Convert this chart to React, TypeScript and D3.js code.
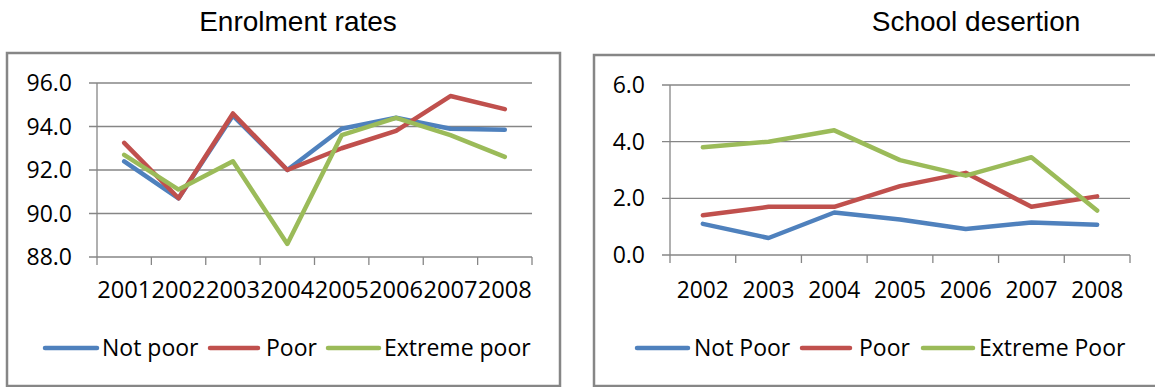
import React from "react";
import * as d3 from "d3";

// ---- data ----
const enrolYears = ["2001", "2002", "2003", "2004", "2005", "2006", "2007", "2008"];
const enrolNotPoor = [92.4, 90.7, 94.5, 92.0, 93.9, 94.4, 93.9, 93.85];
const enrolPoor = [93.25, 90.7, 94.6, 92.0, 93.0, 93.8, 95.4, 94.8];
const enrolExtreme = [92.7, 91.1, 92.4, 88.6, 93.6, 94.4, 93.6, 92.6];
const enrolTicks = [88, 90, 92, 94, 96];
const enrolLabels = ["Not poor", "Poor", "Extreme poor"];

const desertYears = ["2002", "2003", "2004", "2005", "2006", "2007", "2008"];
const desertNotPoor = [1.1, 0.6, 1.5, 1.25, 0.92, 1.15, 1.07];
const desertPoor = [1.4, 1.7, 1.7, 2.43, 2.9, 1.7, 2.07];
const desertExtreme = [3.8, 4.0, 4.4, 3.35, 2.8, 3.45, 1.57];
const desertTicks = [0, 2, 4, 6];
const desertLabels = ["Not Poor", "Poor", "Extreme Poor"];

const seriesColors = ["#4F81BD", "#C0504D", "#9BBB59"];
const labelFont = "'Open Sans', 'Liberation Sans', sans-serif";
const titleFont = "'Liberation Sans', Arial, sans-serif";
const gray = "#868686";

type PanelProps = {
  title: string;
  titleX: number;
  frame: { x: number; y: number; w: number; h: number };
  plot: { left: number; right: number; top: number; bottom: number };
  years: string[];
  series: number[][];
  names: string[];
  domain: [number, number];
  ticks: number[];
  labelRight: number;
  yearWidth: number;
  legend: { x1: number; x2: number; tx: number }[];
};

function Panel(p: PanelProps) {
  const x = d3
    .scaleBand<string>()
    .domain(p.years)
    .range([p.plot.left, p.plot.right])
    .padding(0);
  const y = d3.scaleLinear().domain(p.domain).range([p.plot.bottom, p.plot.top]);
  const line = d3
    .line<number>()
    .x((_, i) => (x(p.years[i]) as number) + x.bandwidth() / 2)
    .y((v) => y(v));
  const boundaries = p.years.map((yr) => x(yr) as number).concat([p.plot.right]);
  const legendY = 348;

  return (
    <g>
      <text
        x={p.titleX}
        y={31}
        textAnchor="middle"
        fontFamily={titleFont}
        fontSize={28}
        fill="#000"
      >
        {p.title}
      </text>
      <rect
        x={p.frame.x}
        y={p.frame.y}
        width={p.frame.w}
        height={p.frame.h}
        fill="#fff"
        stroke={gray}
        strokeWidth={2.5}
      />
      {/* horizontal gridlines and y tick labels */}
      {p.ticks.map((t) => (
        <g key={t}>
          <line
            x1={p.plot.left - 8}
            x2={p.plot.right}
            y1={y(t)}
            y2={y(t)}
            stroke={gray}
            strokeWidth={1.3}
          />
          <text
            x={p.labelRight}
            y={y(t) + 8}
            textAnchor="end"
            fontFamily={labelFont}
            fontSize={23}
            fill="#000"
          >
            {t.toFixed(1)}
          </text>
        </g>
      ))}
      {/* value axis */}
      <line
        x1={p.plot.left}
        x2={p.plot.left}
        y1={p.plot.top}
        y2={p.plot.bottom}
        stroke={gray}
        strokeWidth={1.3}
      />
      {/* category tick marks */}
      {boundaries.map((bx, i) => (
        <line
          key={i}
          x1={bx}
          x2={bx}
          y1={p.plot.bottom}
          y2={p.plot.bottom + 8}
          stroke={gray}
          strokeWidth={1.3}
        />
      ))}
      {p.years.map((yr) => (
        <text
          key={yr}
          x={(x(yr) as number) + x.bandwidth() / 2}
          y={298}
          textAnchor="middle"
          fontFamily={labelFont}
          fontSize={23}
          textLength={p.yearWidth}
          lengthAdjust="spacingAndGlyphs"
          fill="#000"
        >
          {yr}
        </text>
      ))}
      {p.series.map((s, i) => (
        <path
          key={i}
          d={line(s) || ""}
          fill="none"
          stroke={seriesColors[i]}
          strokeWidth={4.5}
          strokeLinejoin="round"
          strokeLinecap="round"
        />
      ))}
      {p.legend.map((l, i) => (
        <g key={i}>
          <line
            x1={l.x1}
            x2={l.x2}
            y1={legendY}
            y2={legendY}
            stroke={seriesColors[i]}
            strokeWidth={4.5}
            strokeLinecap="round"
          />
          <text
            x={l.tx}
            y={legendY + 8}
            fontFamily={labelFont}
            fontSize={23}
            fill="#000"
          >
            {p.names[i]}
          </text>
        </g>
      ))}
    </g>
  );
}

export default function App() {
  return (
    <svg
      width={1155}
      height={387}
      style={{ position: "absolute", left: 0, top: 0, background: "#fff" }}
    >
      <rect x={0} y={0} width={1155} height={387} fill="#fff" />
      <Panel
        title="Enrolment rates"
        titleX={298}
        frame={{ x: 7, y: 53, w: 553, h: 333 }}
        plot={{ left: 97, right: 532, top: 83, bottom: 257 }}
        years={enrolYears}
        series={[enrolNotPoor, enrolPoor, enrolExtreme]}
        names={enrolLabels}
        domain={[88, 96]}
        ticks={enrolTicks}
        labelRight={72}
        yearWidth={54}
        legend={[
          { x1: 45, x2: 97, tx: 102 },
          { x1: 210, x2: 258, tx: 266 },
          { x1: 328, x2: 379, tx: 384 },
        ]}
      />
      <Panel
        title="School desertion"
        titleX={976}
        frame={{ x: 594, y: 55, w: 600, h: 331 }}
        plot={{ left: 670, right: 1130, top: 85, bottom: 255 }}
        years={desertYears}
        series={[desertNotPoor, desertPoor, desertExtreme]}
        names={desertLabels}
        domain={[0, 6]}
        ticks={desertTicks}
        labelRight={645}
        yearWidth={52}
        legend={[
          { x1: 637, x2: 688, tx: 694 },
          { x1: 802, x2: 850, tx: 859 },
          { x1: 923, x2: 973, tx: 979 },
        ]}
      />
    </svg>
  );
}
